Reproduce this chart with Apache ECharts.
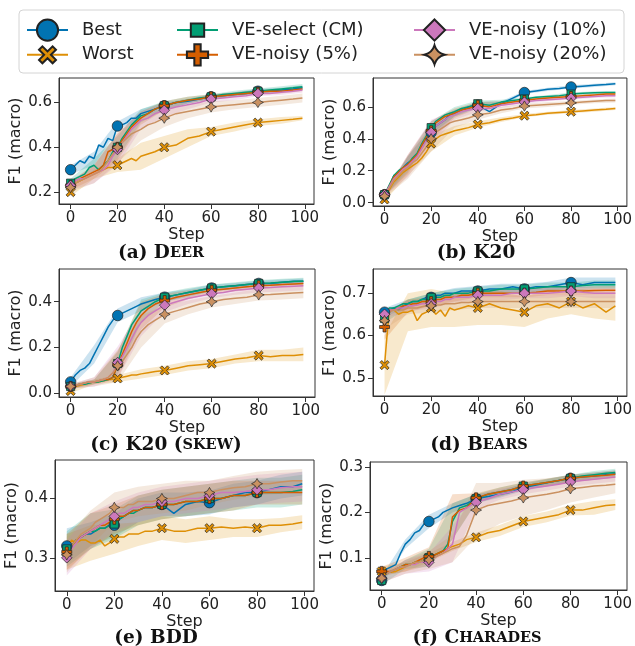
<!DOCTYPE html>
<html><head><meta charset="utf-8">
<script src="https://cdn.jsdelivr.net/npm/echarts@6/dist/echarts.min.js"></script>
<style>html,body{margin:0;padding:0;background:#fff}#c{width:635px;height:646px}</style>
</head><body><div id="c"></div>
<script>
// ---------- data ----------
const STEPS = [0,2,4,6,8,10,12,14,16,18,20,22,24,26,28,30,33,36,40,45,50,55,60,65,70,75,80,85,90,95,99];
const BAND_STEPS = [0,10,20,30,40,50,60,70,80,90,99];
const MARK_STEPS = [0,20,40,60,80];
const X_TICKS = [0,20,40,60,80,100];
const NAMES = ['Best','Worst','VE-select (CM)','VE-noisy (5%)','VE-noisy (10%)','VE-noisy (20%)'];

// (a) Deer
const deerBest   = [0.30,0.32,0.34,0.33,0.36,0.35,0.41,0.40,0.44,0.43, 0.495,0.50,0.51,0.53,0.53,0.55, 0.56,0.57,0.585, 0.60,0.605,0.615,0.625,0.63,0.635,0.64,0.65,0.652,0.655,0.66,0.665];
const deerWorst  = [0.20,0.24,0.25,0.26,0.27,0.28,0.29,0.30,0.31,0.31, 0.32,0.33,0.34,0.35,0.34,0.36, 0.37,0.38,0.40, 0.41,0.44,0.45,0.47,0.48,0.49,0.50,0.51,0.515,0.52,0.525,0.53];
const deerSelect = [0.24,0.26,0.27,0.28,0.31,0.32,0.30,0.32,0.34,0.38, 0.40,0.44,0.47,0.50,0.52,0.54, 0.55,0.57,0.585, 0.60,0.61,0.62,0.625,0.635,0.64,0.645,0.65,0.655,0.66,0.665,0.67];
const deerN5     = [0.23,0.25,0.26,0.27,0.28,0.29,0.30,0.32,0.38,0.39, 0.40,0.43,0.46,0.49,0.51,0.53, 0.55,0.57,0.585, 0.60,0.61,0.615,0.625,0.63,0.635,0.64,0.645,0.65,0.65,0.655,0.66];
const deerN10    = [0.23,0.25,0.26,0.26,0.27,0.28,0.29,0.30,0.32,0.36, 0.39,0.42,0.45,0.48,0.50,0.52, 0.53,0.55,0.565, 0.58,0.59,0.60,0.615,0.62,0.625,0.63,0.64,0.64,0.645,0.65,0.655];
const deerN20    = [0.22,0.24,0.25,0.26,0.27,0.28,0.29,0.31,0.34,0.37, 0.40,0.42,0.44,0.46,0.47,0.48, 0.50,0.51,0.53, 0.55,0.56,0.57,0.58,0.585,0.59,0.595,0.60,0.605,0.61,0.615,0.62];
const deerBestBand   = [0.02,0.03,0.02,0.02,0.015,0.012,0.01,0.01,0.01,0.01,0.01];
const deerWorstBand  = [0.02,0.02,0.03,0.06,0.05,0.04,0.02,0.02,0.015,0.015,0.01];
const deerSelectBand = [0.02,0.03,0.05,0.03,0.02,0.015,0.012,0.012,0.012,0.012,0.012];
const deerN5Band     = [0.02,0.03,0.06,0.03,0.02,0.015,0.012,0.01,0.01,0.01,0.01];
const deerN10Band    = [0.02,0.04,0.07,0.04,0.03,0.02,0.015,0.015,0.012,0.012,0.012];
const deerN20Band    = [0.02,0.04,0.07,0.05,0.04,0.03,0.025,0.02,0.02,0.02,0.02];

// (b) K20
const k20Best   = [0.05,0.10,0.17,0.19,0.22,0.25,0.27,0.30,0.36,0.40, 0.44,0.48,0.50,0.52,0.55,0.56, 0.58,0.60,0.61, 0.57,0.62,0.655,0.69,0.70,0.71,0.715,0.725,0.73,0.735,0.74,0.745];
const k20Worst  = [0.02,0.08,0.13,0.16,0.19,0.21,0.23,0.25,0.28,0.32, 0.37,0.40,0.42,0.43,0.44,0.45, 0.46,0.47,0.49, 0.50,0.52,0.53,0.545,0.55,0.56,0.565,0.57,0.575,0.58,0.585,0.59];
const k20Select = [0.05,0.11,0.17,0.20,0.22,0.24,0.28,0.31,0.37,0.42, 0.47,0.51,0.53,0.55,0.56,0.57, 0.59,0.60,0.62, 0.61,0.63,0.64,0.65,0.66,0.665,0.67,0.68,0.685,0.688,0.69,0.69];
const k20N5     = [0.05,0.10,0.16,0.19,0.22,0.24,0.27,0.30,0.36,0.41, 0.45,0.50,0.52,0.54,0.55,0.56, 0.58,0.59,0.61, 0.60,0.62,0.63,0.64,0.65,0.655,0.66,0.665,0.67,0.675,0.68,0.68];
const k20N10    = [0.05,0.10,0.15,0.18,0.21,0.23,0.26,0.29,0.34,0.39, 0.44,0.48,0.50,0.52,0.54,0.55, 0.57,0.58,0.59, 0.59,0.61,0.62,0.63,0.64,0.645,0.65,0.655,0.66,0.665,0.67,0.67];
const k20N20    = [0.04,0.09,0.14,0.17,0.20,0.22,0.25,0.27,0.31,0.35, 0.40,0.44,0.46,0.48,0.50,0.51, 0.52,0.53,0.55, 0.56,0.58,0.59,0.605,0.61,0.615,0.62,0.625,0.63,0.635,0.64,0.64];
const k20BestBand   = [0.01,0.04,0.03,0.02,0.02,0.015,0.01,0.01,0.01,0.01,0.01];
const k20WorstBand  = [0.01,0.04,0.05,0.03,0.02,0.015,0.01,0.01,0.01,0.01,0.01];
const k20SelectBand = [0.01,0.05,0.04,0.03,0.02,0.015,0.01,0.01,0.01,0.01,0.01];
const k20N5Band     = [0.01,0.06,0.06,0.03,0.02,0.015,0.01,0.01,0.01,0.01,0.01];
const k20N10Band    = [0.01,0.07,0.08,0.03,0.02,0.015,0.012,0.01,0.01,0.01,0.01];
const k20N20Band    = [0.01,0.07,0.08,0.04,0.03,0.02,0.015,0.015,0.012,0.012,0.012];

// (c) K20 (skew)
const skewBest   = [0.05,0.08,0.10,0.11,0.13,0.17,0.21,0.25,0.29,0.32, 0.34,0.35,0.36,0.37,0.38,0.39, 0.40,0.41,0.42, 0.43,0.44,0.45,0.46,0.465,0.47,0.475,0.48,0.48,0.485,0.49,0.49];
const skewWorst  = [0.01,0.03,0.035,0.04,0.045,0.05,0.05,0.055,0.06,0.06, 0.065,0.07,0.075,0.08,0.08,0.085, 0.09,0.095,0.10, 0.11,0.12,0.125,0.13,0.14,0.15,0.155,0.165,0.16,0.165,0.165,0.17];
const skewSelect = [0.03,0.035,0.04,0.04,0.045,0.05,0.05,0.055,0.06,0.07, 0.13,0.20,0.25,0.30,0.33,0.36, 0.38,0.40,0.42, 0.43,0.44,0.45,0.46,0.465,0.47,0.475,0.48,0.482,0.485,0.488,0.49];
const skewN5     = [0.03,0.035,0.04,0.045,0.05,0.05,0.055,0.06,0.06,0.07, 0.125,0.17,0.22,0.27,0.31,0.34, 0.37,0.39,0.405, 0.42,0.43,0.44,0.45,0.455,0.46,0.465,0.47,0.472,0.475,0.478,0.48];
const skewN10    = [0.03,0.035,0.04,0.045,0.05,0.05,0.055,0.06,0.07,0.09, 0.135,0.16,0.20,0.24,0.28,0.31, 0.34,0.36,0.385, 0.40,0.415,0.425,0.435,0.44,0.45,0.455,0.46,0.462,0.465,0.468,0.47];
const skewN20    = [0.03,0.035,0.04,0.045,0.05,0.05,0.055,0.06,0.07,0.09, 0.12,0.14,0.17,0.20,0.24,0.27, 0.30,0.32,0.345, 0.36,0.375,0.39,0.40,0.41,0.415,0.42,0.43,0.432,0.435,0.438,0.44];
const skewBestBand   = [0.02,0.04,0.03,0.03,0.02,0.015,0.015,0.012,0.012,0.012,0.012];
const skewWorstBand  = [0.01,0.01,0.015,0.02,0.02,0.02,0.02,0.02,0.025,0.025,0.03];
const skewSelectBand = [0.01,0.01,0.05,0.05,0.02,0.02,0.015,0.015,0.015,0.015,0.015];
const skewN5Band     = [0.01,0.01,0.06,0.06,0.03,0.02,0.015,0.015,0.015,0.015,0.015];
const skewN10Band    = [0.01,0.02,0.07,0.06,0.03,0.025,0.02,0.02,0.02,0.02,0.02];
const skewN20Band    = [0.01,0.02,0.07,0.07,0.04,0.03,0.025,0.025,0.025,0.025,0.025];

// (d) Bears
const bearsBest   = [0.655,0.66,0.665,0.66,0.67,0.675,0.68,0.68,0.685,0.69, 0.69,0.695,0.695,0.70,0.70,0.70, 0.705,0.705,0.705, 0.71,0.71,0.715,0.71,0.715,0.715,0.72,0.725,0.72,0.725,0.725,0.725];
const bearsWorst  = [0.53,0.66,0.66,0.65,0.655,0.655,0.66,0.635,0.65,0.655, 0.665,0.65,0.66,0.645,0.665,0.66, 0.665,0.67,0.665, 0.675,0.665,0.66,0.655,0.67,0.675,0.665,0.68,0.665,0.675,0.655,0.67];
const bearsSelect = [0.64,0.665,0.665,0.67,0.675,0.675,0.68,0.68,0.685,0.685, 0.69,0.69,0.69,0.695,0.695,0.70, 0.70,0.70,0.705, 0.705,0.71,0.71,0.71,0.712,0.715,0.715,0.715,0.718,0.72,0.72,0.72];
const bearsN5     = [0.62,0.66,0.66,0.665,0.67,0.67,0.675,0.675,0.68,0.68, 0.68,0.685,0.685,0.69,0.69,0.69, 0.695,0.695,0.70, 0.70,0.70,0.70,0.70,0.702,0.705,0.705,0.705,0.705,0.706,0.707,0.707];
const bearsN10    = [0.65,0.66,0.66,0.665,0.665,0.67,0.67,0.672,0.675,0.675, 0.675,0.68,0.68,0.685,0.685,0.69, 0.69,0.69,0.695, 0.695,0.695,0.70,0.70,0.70,0.70,0.702,0.705,0.702,0.70,0.70,0.70];
const bearsN20    = [0.635,0.655,0.66,0.66,0.66,0.665,0.665,0.665,0.668,0.67, 0.67,0.672,0.672,0.675,0.675,0.675, 0.678,0.678,0.68, 0.68,0.68,0.68,0.68,0.68,0.68,0.68,0.68,0.68,0.68,0.68,0.68];
const bearsBestBand   = [0.01,0.01,0.01,0.012,0.012,0.012,0.012,0.012,0.012,0.012,0.012];
const bearsWorstBand  = [0.07,0.045,0.045,0.04,0.04,0.04,0.035,0.035,0.03,0.035,0.035];
const bearsSelectBand = [0.01,0.01,0.01,0.01,0.01,0.01,0.01,0.01,0.01,0.01,0.01];
const bearsN5Band     = [0.03,0.015,0.01,0.01,0.01,0.01,0.01,0.01,0.01,0.01,0.01];
const bearsN10Band    = [0.01,0.012,0.012,0.012,0.012,0.012,0.012,0.012,0.012,0.012,0.012];
const bearsN20Band    = [0.02,0.015,0.015,0.015,0.015,0.015,0.015,0.015,0.015,0.015,0.015];

// (e) BDD
const bddBest   = [0.32,0.32,0.33,0.335,0.34,0.34,0.345,0.35,0.35,0.355, 0.355,0.365,0.37,0.375,0.38,0.38, 0.385,0.385,0.39, 0.375,0.39,0.395,0.393,0.40,0.405,0.41,0.41,0.415,0.42,0.42,0.425];
const bddWorst  = [0.31,0.33,0.325,0.33,0.33,0.325,0.325,0.33,0.32,0.325, 0.332,0.335,0.335,0.34,0.34,0.34, 0.345,0.345,0.35, 0.345,0.345,0.35,0.35,0.352,0.35,0.352,0.35,0.355,0.355,0.357,0.36];
const bddSelect = [0.315,0.32,0.33,0.335,0.34,0.345,0.345,0.35,0.35,0.355, 0.357,0.365,0.37,0.375,0.375,0.38, 0.385,0.385,0.39, 0.39,0.395,0.395,0.40,0.40,0.405,0.405,0.41,0.41,0.41,0.412,0.415];
const bddN5     = [0.31,0.32,0.33,0.335,0.34,0.345,0.35,0.355,0.355,0.36, 0.365,0.37,0.37,0.375,0.38,0.38, 0.385,0.385,0.39, 0.39,0.395,0.395,0.40,0.40,0.405,0.405,0.41,0.41,0.41,0.41,0.41];
const bddN10    = [0.30,0.315,0.325,0.335,0.34,0.345,0.35,0.355,0.36,0.365, 0.37,0.375,0.375,0.38,0.385,0.385, 0.39,0.39,0.395, 0.395,0.40,0.40,0.405,0.41,0.41,0.412,0.415,0.415,0.418,0.42,0.42];
const bddN20    = [0.305,0.32,0.33,0.34,0.345,0.35,0.36,0.365,0.37,0.375, 0.385,0.385,0.385,0.39,0.39,0.395, 0.395,0.395,0.40, 0.40,0.405,0.41,0.41,0.415,0.418,0.42,0.425,0.425,0.428,0.43,0.43];
const bddBestBand   = [0.03,0.02,0.02,0.02,0.02,0.02,0.02,0.02,0.02,0.02,0.02];
const bddWorstBand  = [0.03,0.03,0.025,0.02,0.02,0.02,0.02,0.015,0.015,0.012,0.012];
const bddSelectBand = [0.03,0.03,0.025,0.025,0.025,0.025,0.025,0.025,0.025,0.025,0.025];
const bddN5Band     = [0.03,0.03,0.025,0.025,0.025,0.025,0.025,0.025,0.02,0.02,0.02];
const bddN10Band    = [0.03,0.03,0.025,0.025,0.025,0.025,0.025,0.025,0.025,0.025,0.025];
const bddN20Band    = [0.03,0.03,0.025,0.025,0.025,0.025,0.02,0.02,0.02,0.02,0.02];

// (f) Charades
const charBest   = [0.05,0.075,0.08,0.085,0.11,0.13,0.14,0.155,0.16,0.175, 0.18,0.185,0.19,0.20,0.205,0.21, 0.215,0.22,0.23, 0.235,0.24,0.245,0.255,0.26,0.265,0.27,0.275,0.278,0.28,0.283,0.285];
const charWorst  = [0.07,0.07,0.068,0.07,0.075,0.08,0.085,0.088,0.09,0.095, 0.10,0.105,0.11,0.115,0.12,0.125, 0.13,0.14,0.145, 0.155,0.16,0.17,0.18,0.185,0.19,0.195,0.205,0.205,0.21,0.215,0.217];
const charSelect = [0.05,0.065,0.07,0.075,0.08,0.085,0.085,0.09,0.09,0.095, 0.10,0.105,0.11,0.115,0.13,0.18, 0.21,0.215,0.23, 0.24,0.245,0.25,0.258,0.262,0.266,0.27,0.275,0.28,0.283,0.286,0.288];
const charN5     = [0.07,0.07,0.07,0.075,0.08,0.085,0.085,0.09,0.095,0.10, 0.103,0.105,0.11,0.115,0.12,0.19, 0.205,0.21,0.232, 0.24,0.245,0.25,0.258,0.262,0.266,0.27,0.275,0.278,0.28,0.282,0.284];
const charN10    = [0.055,0.065,0.07,0.075,0.08,0.08,0.085,0.085,0.09,0.09, 0.09,0.10,0.105,0.11,0.12,0.13, 0.20,0.21,0.222, 0.23,0.24,0.245,0.25,0.255,0.258,0.262,0.267,0.27,0.273,0.276,0.278];
const charN20    = [0.055,0.065,0.07,0.075,0.08,0.08,0.085,0.09,0.09,0.095, 0.095,0.10,0.105,0.11,0.115,0.12, 0.125,0.15,0.205, 0.215,0.22,0.225,0.232,0.236,0.24,0.245,0.252,0.255,0.258,0.26,0.262];
const charBestBand   = [0.01,0.01,0.015,0.01,0.01,0.008,0.008,0.008,0.008,0.008,0.008];
const charWorstBand  = [0.01,0.01,0.01,0.01,0.01,0.012,0.012,0.012,0.012,0.015,0.012];
const charSelectBand = [0.01,0.01,0.02,0.04,0.01,0.01,0.008,0.008,0.008,0.008,0.008];
const charN5Band     = [0.01,0.015,0.02,0.05,0.01,0.01,0.008,0.008,0.008,0.008,0.008];
const charN10Band    = [0.01,0.015,0.02,0.04,0.015,0.012,0.01,0.01,0.01,0.01,0.01];
const charN20Band    = [0.01,0.015,0.02,0.03,0.06,0.045,0.04,0.035,0.03,0.025,0.02];

// ---------- panels (layout) ----------
const PANELS = [
  {lines:[deerBest,deerWorst,deerSelect,deerN5,deerN10,deerN20], bands:[deerBestBand,deerWorstBand,deerSelectBand,deerN5Band,deerN10Band,deerN20Band],
   grid:{left:59,top:78,width:255,height:126}, ymin:0.147, ymax:0.709, yticks:[0.2,0.4,0.6], gap:34, title:'{b|(a) D}{s|EER}', tx:161, ty:253},
  {lines:[k20Best,k20Worst,k20Select,k20N5,k20N10,k20N20], bands:[k20BestBand,k20WorstBand,k20SelectBand,k20N5Band,k20N10Band,k20N20Band],
   grid:{left:373,top:78,width:256,height:128}, ymin:-0.021, ymax:0.781, yticks:[0,0.2,0.4,0.6], gap:33, title:'{b|(b) K20}', tx:476, ty:253},
  {lines:[skewBest,skewWorst,skewSelect,skewN5,skewN10,skewN20], bands:[skewBestBand,skewWorstBand,skewSelectBand,skewN5Band,skewN10Band,skewN20Band],
   grid:{left:59,top:269,width:256,height:128}, ymin:-0.016, ymax:0.543, yticks:[0,0.2,0.4], gap:34, title:'{b|(c) K20 (}{s|SKEW}{b|)}', tx:166, ty:445},
  {lines:[bearsBest,bearsWorst,bearsSelect,bearsN5,bearsN10,bearsN20], bands:[bearsBestBand,bearsWorstBand,bearsSelectBand,bearsN5Band,bearsN10Band,bearsN20Band],
   grid:{left:373,top:269,width:257,height:127}, ymin:0.457, ymax:0.757, yticks:[0.5,0.6,0.7], gap:33, title:'{b|(d) B}{s|EARS}', tx:479, ty:445},
  {lines:[bddBest,bddWorst,bddSelect,bddN5,bddN10,bddN20], bands:[bddBestBand,bddWorstBand,bddSelectBand,bddN5Band,bddN10Band,bddN20Band],
   grid:{left:55,top:460,width:259,height:131}, ymin:0.244, ymax:0.465, yticks:[0.3,0.4], gap:30, title:'{b|(e) BDD}', tx:156, ty:638},
  {lines:[charBest,charWorst,charSelect,charN5,charN10,charN20], bands:[charBestBand,charWorstBand,charSelectBand,charN5Band,charN10Band,charN20Band],
   grid:{left:370,top:462,width:257,height:128}, ymin:0.029, ymax:0.311, yticks:[0.1,0.2,0.3], gap:32, title:'{b|(f) C}{s|HARADES}', tx:477, ty:638}
];

const COLORS = ['#0173b2','#de8f05','#029e73','#d55e00','#cc78bc','#ca9161'];
// glyphs drawn inside a common 20x20 box (the leading moves fix the box), so relative sizes match
const SYMBOLS = [
  'circle',
  'path://M-10,-10 M10,10 M-8,-4.8 L-4.8,-8 L0,-3.2 L4.8,-8 L8,-4.8 L3.2,0 L8,4.8 L4.8,8 L0,3.2 L-4.8,8 L-8,4.8 L-3.2,0 Z',
  'path://M-10,-10 M10,10 M-6.3,-6.3 L6.3,-6.3 L6.3,6.3 L-6.3,6.3 Z',
  'path://M-10,-10 M10,10 M-3,-10 L3,-10 L3,-3 L10,-3 L10,3 L3,3 L3,10 L-3,10 L-3,3 L-10,3 L-10,-3 L-3,-3 Z',
  'diamond',
  'path://M-10,-10 M10,10 M0,-9 Q2,-2 9.5,0 Q2,2 0,9 Q-2,2 -9.5,0 Q-2,-2 0,-9 Z'
];
const SIZES = [10.5,11.5,13,10,10.5,11.5];
const FONT = 'DejaVu Sans';
const AX = '#333';

const grids = [], xAxes = [], yAxes = [], series = [], graphics = [];
PANELS.forEach((p, i) => {
  grids.push(Object.assign({show:true, borderColor:AX, borderWidth:1, backgroundColor:'transparent'}, p.grid));
  xAxes.push({type:'value', gridIndex:i, min:-4.95, max:103.95,
    name:'Step', nameLocation:'middle', nameGap:22, nameTextStyle:{fontSize:16, color:'#222', fontFamily:FONT},
    axisLine:{show:true, onZero:false, lineStyle:{color:AX}},
    axisTick:{show:true, length:5, customValues:X_TICKS, lineStyle:{color:AX}},
    axisLabel:{customValues:X_TICKS, fontSize:15, color:'#222', fontFamily:FONT, margin:7},
    splitLine:{show:false}});
  yAxes.push({type:'value', gridIndex:i, min:p.ymin, max:p.ymax,
    name:'F1 (macro)', nameLocation:'middle', nameGap:p.gap, nameTextStyle:{fontSize:16, color:'#222', fontFamily:FONT},
    axisLine:{show:true, onZero:false, lineStyle:{color:AX}},
    axisTick:{show:true, length:5, customValues:p.yticks, lineStyle:{color:AX}},
    axisLabel:{customValues:p.yticks, formatter:v => v.toFixed(1), fontSize:15, color:'#222', fontFamily:FONT, margin:7},
    splitLine:{show:false}});
  // bands
  p.lines.forEach((vals, j) => {
    const w = p.bands[j];
    series.push({type:'custom', xAxisIndex:i, yAxisIndex:i, silent:true, z:1, data:[[0,0]],
      renderItem:(params, api) => {
        const up = [], lo = [];
        BAND_STEPS.forEach((s, k) => {
          const c = vals[STEPS.indexOf(s)];
          up.push(api.coord([s, c + w[k]]));
          lo.push(api.coord([s, c - w[k]]));
        });
        return {type:'polygon', shape:{points: up.concat(lo.reverse())},
          style:{fill:COLORS[j], opacity:0.2}};
      }});
  });
  // lines + markers
  p.lines.forEach((vals, j) => {
    series.push({type:'line', name:NAMES[j], xAxisIndex:i, yAxisIndex:i, z:2,
      symbol:SYMBOLS[j], symbolSize:SIZES[j], showSymbol:true, showAllSymbol:true,
      lineStyle:{width:1.5, color:COLORS[j]},
      itemStyle:{color:COLORS[j], borderColor:'#222', borderWidth:0.7},
      emphasis:{disabled:true},
      data: STEPS.map((s, k) => MARK_STEPS.includes(s) ? {value:[s, vals[k]]} : {value:[s, vals[k]], symbol:'none'})
    });
  });
  graphics.push({type:'text', x:p.tx, y:p.ty, z:10,
    style:{text:p.title, align:'center', verticalAlign:'middle', textAlign:'center', textVerticalAlign:'middle',
      rich:{b:{fontSize:18.5, fontWeight:'bold', fontFamily:'DejaVu Serif', fill:'#111', color:'#111'},
            s:{fontSize:14.5, fontWeight:'bold', fontFamily:'DejaVu Serif', fill:'#111', color:'#111'}}}});
});
graphics.push({type:'rect', z:0, shape:{x:19, y:10, width:605, height:63, r:4},
  style:{fill:'#fff', stroke:'#d4d4d4', lineWidth:1}});

const LEGEND_LEFT = [21, 171, 408];
const legends = [0,1,2].map(c => ({
  orient:'vertical', left:LEGEND_LEFT[c], top:13.5, itemWidth:41, itemHeight:26.5, itemGap:1.5,
  selectedMode:false, data:NAMES.slice(2*c, 2*c+2), z:20,
  textStyle:{fontSize:18, fontFamily:FONT, color:'#222', padding:[0,0,0,9]}
}));

const chart = echarts.init(document.getElementById('c'), null, {renderer:'canvas'});
chart.setOption({
  animation:false, backgroundColor:'#fff',
  graphic:{elements:graphics},
  legend:legends,
  grid:grids, xAxis:xAxes, yAxis:yAxes, series:series
});
</script></body></html>
